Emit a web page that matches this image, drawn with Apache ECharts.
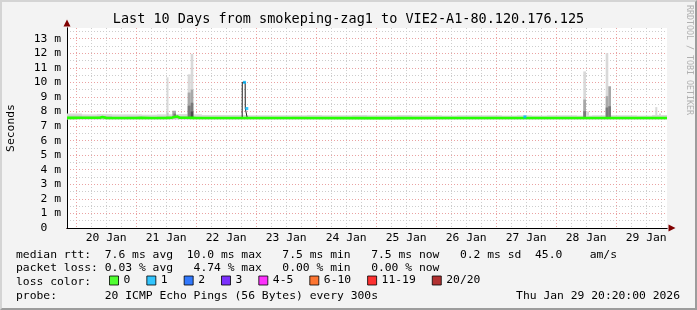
<!DOCTYPE html>
<html><head><meta charset="utf-8">
<script src="https://cdn.jsdelivr.net/npm/echarts@6/dist/echarts.min.js"></script>
<style>
html,body{margin:0;padding:0;background:#f3f3f3;}
#wrap{position:relative;width:697px;height:310px;}
#chart{position:absolute;left:0;top:0;width:697px;height:310px;}
#frame{position:absolute;left:0;top:0;width:697px;height:310px;box-sizing:border-box;border-top:2px solid #d4d4d4;border-left:2px solid #d4d4d4;border-right:2px solid #9c9c9c;border-bottom:2px solid #9c9c9c;pointer-events:none;}
</style></head><body>
<div id="wrap"><div id="chart"></div><div id="frame"></div></div>
<script>
// ---------------- data ----------------
const titleText = 'Last 10 Days from smokeping-zag1 to VIE2-A1-80.120.176.125';
// hours relative to 20 Jan 00:00
const startHour = -11 / 3;   // 19 Jan 20:20
const endHour = 709 / 3;     // 29 Jan 20:20
const dayLabels = ['20 Jan', '21 Jan', '22 Jan', '23 Jan', '24 Jan', '25 Jan', '26 Jan', '27 Jan', '28 Jan', '29 Jan'];
const dayLabelHours = [12, 36, 60, 84, 108, 132, 156, 180, 204, 228];
const yTicks = [0, 1, 2, 3, 4, 5, 6, 7, 8, 9, 10, 11, 12, 13];
const yMax = 13.73; // ms

// median rtt (ms) breakpoints
const medianHours = [-3.67, -0.6, 0.2, 1.2, 9.5, 10.5, 12.0, 23.8, 24.6, 26.2, 30.0, 36.0, 38.4, 39.2, 40.4, 41.4, 44.6, 45.4, 46.8, 48.0,
  66.4, 66.45, 67.6, 67.65, 68.4, 68.45, 90.0, 120.0, 150.0, 179.0, 179.1, 179.8, 179.9, 200.0, 211.8, 212.4, 213.2, 236.34];
const medianValues = [7.56, 7.56, 7.66, 7.57, 7.57, 7.62, 7.56, 7.55, 7.64, 7.56, 7.55, 7.56, 7.58, 7.68, 7.66, 7.57, 7.57, 7.62, 7.56, 7.55,
  7.55, 10.0, 10.0, 8.2, 8.2, 7.55, 7.55, 7.54, 7.55, 7.55, 7.63, 7.63, 7.55, 7.55, 7.55, 7.60, 7.55, 7.55];
const medianLoss = [0, 0, 0, 0, 0, 0, 0, 0, 0, 0, 0, 0, 0, 0, 0, 0, 0, 0, 0, 0,
  0, 1, 1, 1, 1, 0, 0, 0, 0, 0, 1, 1, 0, 0, 0, 0, 0, 0];

// points where 1 of 20 pings was lost
const lossMarkHours = [67.35, 68.25, 179.5];
const lossMarkValues = [10.0, 8.2, 7.63];

// smoke band, 6-hour bins from 19 Jan 20:20 (ms)
const bandLow = [7.46, 7.46, 7.46, 7.46, 7.46, 7.46, 7.46, 7.46, 7.46, 7.46, 7.46, 7.46, 7.46, 7.46, 7.46, 7.46, 7.46, 7.46, 7.46, 7.46,
  7.46, 7.46, 7.46, 7.46, 7.46, 7.46, 7.46, 7.46, 7.46, 7.46, 7.46, 7.46, 7.46, 7.46, 7.46, 7.46, 7.46, 7.46, 7.46, 7.46];
const bandHigh = [7.86, 7.80, 7.82, 7.80, 7.80, 7.78, 7.80, 7.82, 7.80, 7.76, 7.76, 7.76, 7.74, 7.74, 7.74, 7.74, 7.76, 7.74, 7.74, 7.76,
  7.74, 7.74, 7.76, 7.74, 7.74, 7.72, 7.74, 7.74, 7.74, 7.72, 7.74, 7.72, 7.74, 7.74, 7.72, 7.74, 7.74, 7.74, 7.72, 7.76];
const bandInner = [7.72, 7.66, 7.70, 7.64, 7.66, 7.62, 7.66, 7.70, 7.64, 7.62, 7.62, 7.62, 7.62, 7.62, 7.62, 7.64, 7.62, 7.62, 7.62, 7.64,
  7.62, 7.62, 7.64, 7.62, 7.62, 7.62, 7.62, 7.62, 7.64, 7.62, 7.62, 7.62, 7.62, 7.62, 7.62, 7.62, 7.62, 7.62, 7.62, 7.64];

// smoke spikes (hours, ms, density level)
const spikeStart = [36.13, 36.13, 38.45, 38.95, 44.61, 44.61, 44.61, 45.81, 45.81, 45.81, 45.81,
  202.85, 202.85, 202.85, 203.93, 211.81, 211.81, 211.81, 212.85, 212.85, 231.65, 233.13];
const spikeEnd = [36.93, 36.93, 39.93, 39.93, 45.81, 45.81, 45.81, 46.85, 46.85, 46.85, 46.85,
  203.93, 203.93, 203.93, 205.13, 212.85, 212.85, 212.85, 213.93, 213.93, 232.45, 233.93];
const spikeLow = [7.75, 7.60, 7.60, 7.60, 7.75, 7.60, 7.60, 7.75, 7.60, 7.60, 7.60,
  7.75, 7.60, 7.60, 7.70, 7.75, 7.60, 7.60, 7.60, 7.60, 7.75, 7.70];
const spikeHigh = [10.35, 7.90, 8.05, 7.85, 10.55, 9.30, 8.40, 11.95, 9.50, 8.60, 8.00,
  10.75, 8.82, 8.02, 8.00, 12.00, 9.05, 8.27, 9.73, 8.36, 8.30, 7.86];
const spikeLevel = [0, 1, 2, 3, 0, 2, 3, 0, 2, 3, 4,
  0, 2, 3, 0, 0, 2, 3, 2, 3, 0, 0];

const lossLegend = ['0', '1', '2', '3', '4-5', '6-10', '11-19', '20/20'];
const rttStats = [' 7.6 ms avg', '10.0 ms max', ' 7.5 ms min', ' 7.5 ms now', ' 0.2 ms sd'];
const rttAmps = '45.0    am/s';
const lossStats = [' 0.03 % avg', ' 4.74 % max', ' 0.00 % min', ' 0.00 % now'];
const probeText = '20 ICMP Echo Pings (56 Bytes) every 300s';
const dateText = 'Thu Jan 29 20:20:00 2026';

// ---------------- styles ----------------
const MONO = "'DejaVu Sans Mono', monospace";
const FS = 11.35;
const shadeColors = ['#d9d9d9', '#c6c6c6', '#a8a8a8', '#7a7a7a', '#4a4a4a'];
const lossColors = ['#26ff00', '#00b8ff', '#0059ff', '#5e00ff', '#ff00fe', '#ff5500', '#ff0000', '#a10000'];
const majorGrid = '#eaa2a2';
const minorGrid = '#cdcdcd';

// ---------------- build ----------------
const smokeData = [];
for (let i = 0; i < bandHigh.length; i++) {
  const x0 = startHour + i * 6, x1 = Math.min(x0 + 6, endHour);
  smokeData.push([x0, x1, bandLow[i], bandHigh[i], 0]);
  smokeData.push([x0, x1, bandLow[i], bandInner[i], 1]);
}
for (let i = 0; i < spikeStart.length; i++) {
  smokeData.push([spikeStart[i], spikeEnd[i], spikeLow[i], spikeHigh[i], spikeLevel[i]]);
}
smokeData.sort((a, b) => a[4] - b[4]);

const medianAll = medianHours.map((h, i) => [h, medianValues[i]]);
const medianOk = medianHours.map((h, i) => [h, medianValues[i]]).filter((p, i) => medianLoss[i] === 0);
const lossMarks = lossMarkHours.map((h, i) => [h, lossMarkValues[i]]);

const minorHours = [], midnightHours = [];
for (let h = 0; h <= endHour; h += 6) { if (h % 24 === 0) midnightHours.push(h); else minorHours.push(h); }
const yMinor = yTicks.map(v => v + 0.5).filter(v => v < yMax);

const row1 = 'median rtt: ' + rttStats.join('  ') + '  ' + rttAmps;
const row2 = 'packet loss:' + lossStats.join('  ');

const chart = echarts.init(document.getElementById('chart'), null, { renderer: 'canvas' });
const axisArrow = (color) => ({ show: true, onZero: false, lineStyle: { color: color, width: 1 }, symbol: ['none', 'triangle'], symbolSize: [7, 7], symbolOffset: [0, 5] });

chart.setOption({
  animation: false,
  backgroundColor: '#f3f3f3',
  title: {
    text: titleText, left: 'center', top: 11, padding: 0,
    textStyle: { fontFamily: MONO, fontSize: 13.5, fontWeight: 'normal', color: '#000', lineHeight: 16 }
  },
  grid: { left: 67, top: 28, width: 600, height: 200, show: true, backgroundColor: '#ffffff', borderWidth: 0, outerBoundsMode: 'none', containLabel: false },
  legend: {
    data: lossLegend, left: 109, top: 275, padding: 0, itemWidth: 9, itemHeight: 9, itemGap: 16,
    icon: 'rect', selectedMode: false,
    itemStyle: { borderColor: '#000', borderWidth: 1 },
    textStyle: { fontFamily: MONO, fontSize: FS, color: '#000' }
  },
  xAxis: [
    {
      type: 'value', min: startHour, max: endHour, position: 'bottom', z: 0,
      axisLine: axisArrow('#800000'),
      axisTick: { show: false, customValues: minorHours },
      axisLabel: { show: false },
      splitLine: { show: true, lineStyle: { color: minorGrid, type: [1, 2], width: 1 } }
    },
    {
      type: 'value', min: startHour, max: endHour, position: 'bottom', z: 1,
      axisLine: { show: true, onZero: false, lineStyle: { color: '#000', width: 1 } },
      axisTick: { show: false, customValues: midnightHours },
      axisLabel: {
        customValues: dayLabelHours, margin: 5, fontFamily: MONO, fontSize: FS, color: '#000',
        formatter: v => dayLabels[dayLabelHours.indexOf(Math.round(v))] || ''
      },
      splitLine: { show: true, lineStyle: { color: majorGrid, type: [1, 2], width: 1 } }
    }
  ],
  yAxis: [
    {
      type: 'value', min: 0, max: yMax, position: 'left', z: 0,
      axisLine: axisArrow('#800000'),
      axisTick: { show: false, customValues: yMinor },
      axisLabel: { show: false },
      splitLine: { show: true, lineStyle: { color: minorGrid, type: [1, 2], width: 1 } }
    },
    {
      type: 'value', min: 0, max: yMax, position: 'left', z: 1,
      name: 'Seconds', nameLocation: 'middle', nameGap: 50, nameRotate: 90,
      nameTextStyle: { fontFamily: MONO, fontSize: FS, color: '#000' },
      axisLine: { show: true, onZero: false, lineStyle: { color: '#000', width: 1 } },
      axisTick: { show: false, customValues: yTicks },
      axisLabel: {
        customValues: yTicks, margin: 6, fontFamily: MONO, fontSize: FS, color: '#000',
        formatter: v => (v === 0 ? '0  ' : Math.round(v) + ' m')
      },
      splitLine: { show: true, lineStyle: { color: majorGrid, type: [1, 2], width: 1 } }
    }
  ],
  graphic: [
    { type: 'text', x: 16, y: 255, style: { text: row1, font: FS + 'px ' + MONO, fill: '#000', textVerticalAlign: 'middle' } },
    { type: 'text', x: 16, y: 268.5, style: { text: row2, font: FS + 'px ' + MONO, fill: '#000', textVerticalAlign: 'middle' } },
    { type: 'text', x: 16, y: 282, style: { text: 'loss color:', font: FS + 'px ' + MONO, fill: '#000', textVerticalAlign: 'middle' } },
    { type: 'text', x: 16, y: 296, style: { text: 'probe:       ' + probeText, font: FS + 'px ' + MONO, fill: '#000', textVerticalAlign: 'middle' } },
    { type: 'text', x: 680, y: 296, style: { text: dateText, font: FS + 'px ' + MONO, fill: '#000', textAlign: 'right', textVerticalAlign: 'middle' } },
    { type: 'text', x: 689, y: 5, rotation: -Math.PI / 2, style: { text: 'RRDTOOL / TOBI OETIKER', font: '8.3px ' + MONO, fill: '#b0b0b0', textAlign: 'left', textVerticalAlign: 'middle' } }
  ],
  series: [
    {
      type: 'custom', name: 'smoke', xAxisIndex: 1, yAxisIndex: 1, clip: true, z: 2, silent: true,
      encode: { x: [0, 1], y: [2, 3] },
      data: smokeData,
      renderItem: function (params, api) {
        const p0 = api.coord([api.value(0), api.value(3)]);
        const p1 = api.coord([api.value(1), api.value(2)]);
        return {
          type: 'rect',
          shape: { x: p0[0], y: p0[1], width: p1[0] - p0[0], height: p1[1] - p0[1] },
          style: { fill: shadeColors[api.value(4)] }
        };
      }
    },
    {
      type: 'line', name: 'median', xAxisIndex: 1, yAxisIndex: 1, z: 3, silent: true,
      data: medianAll, showSymbol: false, lineStyle: { color: '#202020', width: 1 }
    },
    {
      type: 'line', name: 'median0', xAxisIndex: 1, yAxisIndex: 1, z: 4, silent: true,
      data: medianOk, showSymbol: false, lineStyle: { color: lossColors[0], width: 2.6 }
    },
    {
      type: 'scatter', name: 'loss1', xAxisIndex: 1, yAxisIndex: 1, z: 5, silent: true,
      data: lossMarks, symbol: 'rect', symbolSize: 3, itemStyle: { color: lossColors[1] }
    }
  ].concat(lossLegend.map((n, i) => ({
    type: 'scatter', name: n, xAxisIndex: 1, yAxisIndex: 1, data: [], itemStyle: { color: lossColors[i] }
  })))
});
</script>
</body></html>
